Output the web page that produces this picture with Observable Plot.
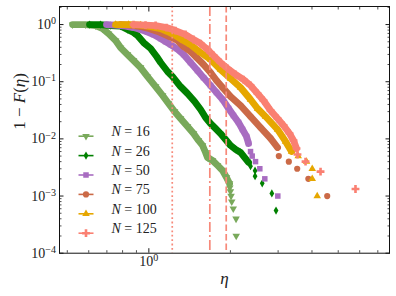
<!DOCTYPE html>
<html><head><meta charset="utf-8">
<script src="https://cdn.jsdelivr.net/npm/d3@7"></script>
<script src="https://cdn.jsdelivr.net/npm/@observablehq/plot@0.6"></script>
<style>html,body{margin:0;padding:0;background:#fff;overflow:hidden}</style>
</head><body><div id="chart"></div>
<script>
// ---- data (eta, 1 - F(eta)) ----
const labels = ["16", "26", "50", "75", "100", "125"];
const colors = ["#79a95b", "#008000", "#a86cc1", "#cb6a47", "#e6a700", "#fa8072"];
const symbols = ["triangle", "diamond", "square", "circle", "triangle", "cross"];
const rotations = [180, 0, 0, 0, 0, 0];
const radii = [2.8, 2.5, 3.1, 3.1, 2.8, 3.3];

const eta16 = [0.523,0.584,0.636,0.675,0.710,0.754,0.786,0.834,0.878,0.932,0.989,1.059,1.124,1.182,1.244,1.309,1.389,1.462,1.525,1.578,1.619,1.646,1.718,1.793,1.871,1.935,1.985];
const ccdf16 = [1.0,1.0,0.961,0.851,0.696,0.525,0.396,0.299,0.235,0.177,0.123,0.0824,0.0574,0.0416,0.0301,0.0227,0.0165,0.0124,0.00938,0.00767,0.00578,0.00473,0.00419,0.00343,0.00280,0.00211,0.00166];
const tailEta16 = [1.99,2.0,2.011,2.023,2.049,2.098,2.101];
const tailCcdf16 = [0.0014,0.0012,0.0010,0.0008,0.0006,0.0004,0.0002];

const eta26 = [0.604,0.663,0.722,0.786,0.834,0.878,0.908,0.956,1.015,1.068,1.105,1.172,1.223,1.309,1.389,1.475,1.552,1.619,1.689,1.763,1.839,1.919,2.002,2.089,2.180,2.255,2.333];
const ccdf26 = [1.0,1.0,0.961,0.941,0.818,0.725,0.642,0.484,0.381,0.276,0.217,0.151,0.123,0.0824,0.0622,0.0451,0.0327,0.0237,0.0186,0.0152,0.0124,0.00976,0.00767,0.00653,0.00578,0.00473,0.00387];
const tailEta26 = [2.373,2.466,2.466,2.621,2.844,2.947];
const tailCcdf26 = [0.00333,0.00278,0.00222,0.00167,0.00111,0.000556];

const eta50 = [0.698,0.754,0.820,0.878,0.932,0.989,1.041,1.105,1.152,1.202,1.265,1.343,1.425,1.512,1.591,1.689,1.777,1.871,1.969,2.053,2.143,2.217,2.294,2.333];
const ccdf50 = [1.0,0.980,0.941,0.886,0.818,0.740,0.669,0.569,0.504,0.447,0.381,0.299,0.217,0.157,0.118,0.0858,0.0648,0.0489,0.0340,0.0256,0.0194,0.0146,0.0110,0.00831];
const tailEta50 = [2.373,2.407,2.476,2.568,2.679,2.992];
const tailCcdf50 = [0.006,0.005,0.004,0.003,0.002,0.001];

const eta75 = [0.786,0.856,0.932,1.015,1.105,1.202,1.276,1.343,1.425,1.500,1.591,1.689,1.777,1.871,2.002,2.180,2.373,2.583,2.813,2.985];
const ccdf75 = [1.0,0.980,0.923,0.834,0.725,0.605,0.525,0.412,0.337,0.265,0.200,0.145,0.105,0.0792,0.0551,0.0384,0.0246,0.0158,0.0102,0.00707];
const tailEta75 = [3.018,3.286,3.528,3.879,4.553];
const tailCcdf75 = [0.005,0.004,0.003,0.002,0.001];

const eta100 = [0.754,0.842,0.932,1.015,1.105,1.172,1.254,1.343,1.425,1.552,1.689,1.839,2.002,2.180,2.373,2.518,2.696,2.985,3.195,3.362];
const ccdf100 = [1.0,1.0,0.980,0.923,0.851,0.754,0.642,0.525,0.447,0.324,0.244,0.163,0.114,0.0792,0.0489,0.0340,0.0246,0.0146,0.00901,0.00602];
const tailEta100 = [3.558,3.819,4.009,4.009,4.182];
const tailCcdf100 = [0.005,0.004,0.003,0.002,0.001];

const eta125 = [0.878,0.972,1.059,1.162,1.254,1.366,1.462,1.552,1.646,1.733,1.839,1.952,2.089,2.236,2.373,2.518,2.650,2.813,2.985,3.141,3.305,3.419,3.508];
const ccdf125 = [1.0,0.980,0.961,0.886,0.785,0.669,0.547,0.465,0.366,0.287,0.217,0.170,0.134,0.109,0.0858,0.0622,0.0469,0.0314,0.0227,0.0172,0.0124,0.00938,0.00680];
const tailEta125 = [3.537,3.787,4.302,5.790];
const tailCcdf125 = [0.00533,0.004,0.00267,0.00133];

// vertical reference lines
const vlines = [1.22, 1.679, 1.93];
const vdash = ["1.8,2.6", "10,3,2,3", "6.5,3"];

// ticks
const yMajor = [1e-4, 1e-3, 1e-2, 1e-1, 1];
const yMinorMult = [2, 3, 4, 5, 6, 7, 8, 9];
const xMajor = [1];
const xMinor = [0.5, 0.6, 0.7, 0.8, 0.9, 2, 3, 4, 5, 6, 7];

// ---- build tables ----
const bodies = [[eta16, ccdf16], [eta26, ccdf26], [eta50, ccdf50], [eta75, ccdf75], [eta100, ccdf100], [eta125, ccdf125]];
const tails = [[tailEta16, tailCcdf16], [tailEta26, tailCcdf26], [tailEta50, tailCcdf50], [tailEta75, tailCcdf75], [tailEta100, tailCcdf100], [tailEta125, tailCcdf125]];
const yMinor = [];
yMajor.forEach(d => yMinorMult.forEach(m => { if (d * m <= 2.07) yMinor.push(d * m); }));

const series = labels.map((label, i) => ({
  label, i,
  body: bodies[i][0].map((x, j) => ({x, y: bodies[i][1][j]})),
  tail: tails[i][0].map((x, j) => ({x, y: tails[i][1][j]}))
}));

const lineSym = {draw(ctx) { ctx.moveTo(-7.5, 0); ctx.lineTo(7.5, 0); }};
const noText = () => "";
const supFmt = d => { const e = Math.round(Math.log10(d)); return "10^" + (e < 0 ? "\u2212" + (-e) : String(e)); };

const marks = [];
series.forEach(s => {
  const c = colors[s.i];
  marks.push(Plot.line(s.body, {x: "x", y: "y", stroke: c, strokeWidth: 6.8, strokeLinejoin: "round", strokeLinecap: "round"}));
  marks.push(Plot.dot(s.body.concat(s.tail), {x: "x", y: "y", symbol: symbols[s.i], rotate: rotations[s.i], r: radii[s.i], fill: c, stroke: "none"}));
});
vlines.forEach((v, k) => marks.push(Plot.ruleX([v], {stroke: "#f7897a", strokeWidth: 1.7, strokeDasharray: vdash[k]})));

// legend (inside the frame, lower left)
series.forEach(s => {
  const dy = -20 - (5 - s.i) * 19.4;
  const c = colors[s.i];
  marks.push(Plot.dot([s], {frameAnchor: "bottom-left", dx: 26.5, dy, symbol: lineSym, stroke: c, strokeWidth: 1.6, fill: "none"}));
  marks.push(Plot.dot([s], {frameAnchor: "bottom-left", dx: 26.5, dy, symbol: symbols[s.i], rotate: rotations[s.i], r: radii[s.i], fill: c, stroke: "none"}));
  marks.push(Plot.text([s], {frameAnchor: "bottom-left", dx: 52, dy, text: d => "N = " + d.label, textAnchor: "start", fontSize: 14, fill: "#222", ariaDescription: "legend-label"}));
});

// axes: labels
marks.push(Plot.axisY({ticks: yMajor, anchor: "left", tickSize: 0, tickPadding: 3.5, tickFormat: supFmt, fontSize: 14, label: null, fill: "#222"}));
marks.push(Plot.axisX({ticks: xMajor, anchor: "bottom", tickSize: 0, tickPadding: 2.5, tickFormat: supFmt, fontSize: 14, label: null, fill: "#222"}));
// inward tick marks
["left", "right"].forEach(a => {
  marks.push(Plot.axisY({ticks: yMajor, anchor: a, tickSize: -4.5, tickFormat: noText, label: null, strokeWidth: 0.9}));
  marks.push(Plot.axisY({ticks: yMinor, anchor: a, tickSize: -2.5, tickFormat: noText, label: null, strokeWidth: 0.7}));
});
["bottom", "top"].forEach(a => {
  marks.push(Plot.axisX({ticks: xMajor, anchor: a, tickSize: -4.5, tickFormat: noText, label: null, strokeWidth: 0.9}));
  marks.push(Plot.axisX({ticks: xMinor, anchor: a, tickSize: -2.5, tickFormat: noText, label: null, strokeWidth: 0.7}));
});
// axis titles
marks.push(Plot.text(["1 \u2212 F(\u03b7)"], {frameAnchor: "left", dx: -40, rotate: -90, text: d => d, fontSize: 17, fill: "#222", ariaDescription: "ylabel"}));
marks.push(Plot.text(["\u03b7"], {frameAnchor: "bottom", dy: 31, text: d => d, fontSize: 17, fontStyle: "italic", fill: "#222"}));
marks.push(Plot.frame({stroke: "#111", strokeWidth: 1}));

const chart = Plot.plot({
  width: 396, height: 296,
  marginLeft: 59, marginRight: 7, marginTop: 6, marginBottom: 43.3,
  x: {type: "log", domain: [0.468, 7.73]},
  y: {type: "log", domain: [1e-4, 2.07]},
  style: {fontFamily: "'Liberation Serif', 'DejaVu Serif', serif", background: "white"},
  marks
});
document.getElementById("chart").appendChild(chart);

// typographic touches: superscripts and math italics
const svg = d3.select(chart);
svg.selectAll("text").each(function() {
  const t = d3.select(this);
  const s = t.text();
  const m = s.match(/^10\^(.+)$/);
  if (m) {
    t.text(null);
    t.append("tspan").text("10");
    t.append("tspan").attr("dy", "-0.48em").attr("font-size", "0.72em").text(m[1]);
  }
});
svg.selectAll('g[aria-description="legend-label"] text').each(function() {
  const t = d3.select(this);
  const s = t.text().replace(/^N/, "");
  t.text(null);
  t.append("tspan").attr("font-style", "italic").text("N");
  t.append("tspan").text(s);
});
svg.selectAll('g[aria-description="ylabel"] text').each(function() {
  const t = d3.select(this);
  t.text(null);
  t.append("tspan").text("1 \u2212 ");
  t.append("tspan").attr("font-style", "italic").text("F");
  t.append("tspan").text("(");
  t.append("tspan").attr("font-style", "italic").text("\u03b7");
  t.append("tspan").text(")");
});
</script>
</body></html>
